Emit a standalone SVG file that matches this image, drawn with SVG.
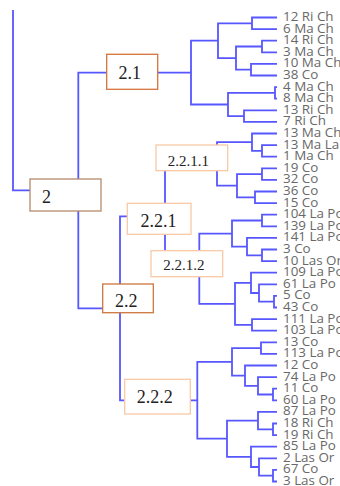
<svg xmlns="http://www.w3.org/2000/svg" width="340" height="486" viewBox="0 0 340 486">
<style>
.c{fill:none;stroke:#5757ff;stroke-width:1.8}
.lf{font-family:"Open Sans","DejaVu Sans",sans-serif;font-size:13.4px;fill:#686868}
.bx{fill:#fff;stroke-width:1.3}
.bl{font-family:"Liberation Serif","Times New Roman",serif;fill:#222}
.big{font-size:18px}
.sm{font-size:15px}
</style>
<rect width="340" height="486" fill="#fff"/>
<g id="connectors" class="c">
<path d="M13 10V190.45H78.3"/>
<path d="M191 72.6H78.3V308.3H120"/>
<path d="M218 40.7H191V104.5H228"/>
<path d="M252 23.3H218V58.1H236"/>
<path d="M277 17.5H252V29.1H277"/>
<path d="M262 46.5H236V69.7H251"/>
<path d="M277 40.7H262V52.3H277"/>
<path d="M277 63.9H251V75.5H277"/>
<path d="M275 92.9H228V116.1H244"/>
<path d="M277 87.1H275V98.7H277"/>
<path d="M277 110.3H244V121.9H277"/>
<path d="M165 216.3H120V400.3H197.3"/>
<path d="M217 163.95H165V268.7H199.3"/>
<path d="M252 142.2H217V185.7H237"/>
<path d="M277 133.5H252V150.9H262"/>
<path d="M277 145.1H262V156.7H277"/>
<path d="M262 174.1H237V197.3H255"/>
<path d="M277 168.3H262V179.9H277"/>
<path d="M277 191.5H255V203.1H277"/>
<path d="M232 233.55H199.3V303.9H235"/>
<path d="M262 220.5H232V246.6H247"/>
<path d="M277 214.7H262V226.3H277"/>
<path d="M277 237.9H247V255.3H262"/>
<path d="M277 249.5H262V261.1H277"/>
<path d="M251 282.85H235V324.9H252"/>
<path d="M277 272.7H251V293H259"/>
<path d="M277 284.3H259V301.7H274"/>
<path d="M277 295.9H274V307.5H277"/>
<path d="M277 319.1H252V330.7H277"/>
<path d="M232 361.9H197.3V438.7H227"/>
<path d="M261 348.1H232V375.65H245"/>
<path d="M277 342.3H261V353.9H277"/>
<path d="M277 365.5H245V385.8H258"/>
<path d="M277 377.1H258V394.5H273"/>
<path d="M277 388.7H273V400.3H277"/>
<path d="M258 420.6H227V456.85H251"/>
<path d="M277 411.9H258V429.3H273"/>
<path d="M277 423.5H273V435.1H277"/>
<path d="M277 446.7H251V467H259"/>
<path d="M277 458.3H259V475.7H273"/>
<path d="M277 469.9H273V481.5H277"/>
</g>
<g id="leaves" class="lf">
<text x="283" y="21">12 Ri Ch</text>
<text x="283" y="32.6">6 Ma Ch</text>
<text x="283" y="44.2">14 Ri Ch</text>
<text x="283" y="55.8">3 Ma Ch</text>
<text x="283" y="67.4">10 Ma Ch</text>
<text x="283" y="79">38 Co</text>
<text x="283" y="90.6">4 Ma Ch</text>
<text x="283" y="102.2">8 Ma Ch</text>
<text x="283" y="113.8">13 Ri Ch</text>
<text x="283" y="125.4">7 Ri Ch</text>
<text x="283" y="137">13 Ma Ch</text>
<text x="283" y="148.6">13 Ma La</text>
<text x="283" y="160.2">1 Ma Ch</text>
<text x="283" y="171.8">19 Co</text>
<text x="283" y="183.4">32 Co</text>
<text x="283" y="195">36 Co</text>
<text x="283" y="206.6">15 Co</text>
<text x="283" y="218.2">104 La Po</text>
<text x="283" y="229.8">139 La Po</text>
<text x="283" y="241.4">141 La Po</text>
<text x="283" y="253">3 Co</text>
<text x="283" y="264.6">10 Las Or</text>
<text x="283" y="276.2">109 La Po</text>
<text x="283" y="287.8">61 La Po</text>
<text x="283" y="299.4">5 Co</text>
<text x="283" y="311">43 Co</text>
<text x="283" y="322.6">111 La Po</text>
<text x="283" y="334.2">103 La Po</text>
<text x="283" y="345.8">13 Co</text>
<text x="283" y="357.4">113 La Po</text>
<text x="283" y="369">12 Co</text>
<text x="283" y="380.6">74 La Po</text>
<text x="283" y="392.2">11 Co</text>
<text x="283" y="403.8">60 La Po</text>
<text x="283" y="415.4">87 La Po</text>
<text x="283" y="427">18 Ri Ch</text>
<text x="283" y="438.6">19 Ri Ch</text>
<text x="283" y="450.2">85 La Po</text>
<text x="283" y="461.8">2 Las Or</text>
<text x="283" y="473.4">67 Co</text>
<text x="283" y="485">3 Las Or</text>
</g>
<g id="node-2">
<rect class="bx" x="30" y="179" width="71" height="32" stroke="#b68a6c"/>
<text class="bl big" x="42" y="203">2</text>
</g>
<g id="node-2.1">
<rect class="bx" x="106.7" y="54.3" width="51" height="35" stroke="#d4733a"/>
<text class="bl big" x="118.5" y="78.5">2.1</text>
</g>
<g id="node-2.2">
<rect class="bx" x="102.7" y="284" width="50.6" height="28.7" stroke="#cc773f"/>
<text class="bl big" x="115" y="306.7">2.2</text>
</g>
<g id="node-2.2.1">
<rect class="bx" x="127.3" y="203.3" width="63.7" height="31" stroke="#f8c8a6"/>
<text class="bl big" x="140.5" y="226.7">2.2.1</text>
</g>
<g id="node-2.2.1.1">
<rect class="bx" x="156" y="145" width="71.7" height="25.7" stroke="#f8c8a6"/>
<text class="bl sm" x="167.7" y="166">2.2.1.1</text>
</g>
<g id="node-2.2.1.2">
<rect class="bx" x="151" y="250.7" width="71.7" height="26" stroke="#f8c8a6"/>
<text class="bl sm" x="163.3" y="270">2.2.1.2</text>
</g>
<g id="node-2.2.2">
<rect class="bx" x="124.7" y="379.3" width="65.6" height="34.7" stroke="#f8c8a6"/>
<text class="bl big" x="136.7" y="403.3">2.2.2</text>
</g>
</svg>
